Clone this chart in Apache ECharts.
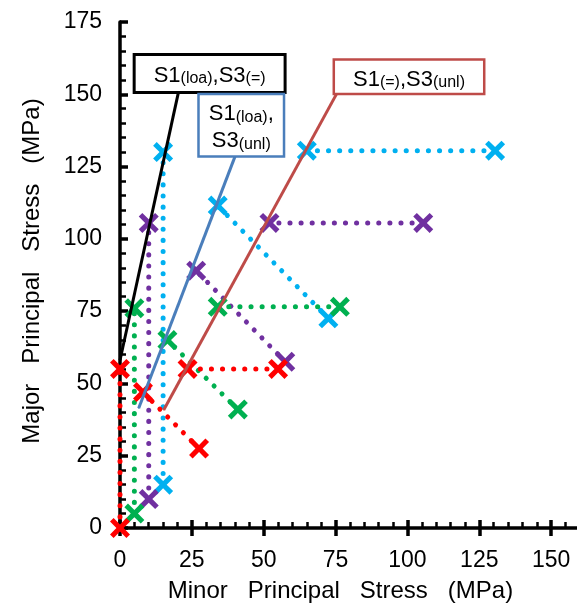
<!DOCTYPE html>
<html>
<head>
<meta charset="utf-8">
<script src="https://cdn.jsdelivr.net/npm/echarts@6/dist/echarts.min.js"></script>
<style>
  html, body { margin: 0; padding: 0; background: #fff; }
  #chart { width: 577px; height: 607px; }
</style>
</head>
<body>
<div id="chart"></div>
<script>
// Stress paths in principal stress space, points are [sigma3, sigma1] in MPa.
// Every colour has three paths leaving a hydrostatic start point:
// S1 loading / S3 constant, S1 loading / S3 unloading, S1 constant / S3 unloading.
const redPaths = [
  [[0, 0], [0, 55]],
  [[27.5, 27.5], [8, 47]],
  [[55, 55], [23.5, 55]]
];
const greenPaths = [
  [[5, 5], [5, 76]],
  [[41, 41], [16.5, 65]],
  [[76.5, 76.5], [34, 76.5]]
];
const purplePaths = [
  [[10, 10], [10, 105.5]],
  [[57.5, 57.5], [26.5, 89]],
  [[105.5, 105.5], [52, 105.5]]
];
const cyanPaths = [
  [[15, 15], [15, 130]],
  [[72.5, 72.5], [34, 111.5]],
  [[130.5, 130.5], [65, 130.5]]
];

// Failure envelopes drawn through the path end points
const envLoaEq = [[0, 58], [20.4, 151]];
const envLoaUnl = [[6.5, 41.4], [40.1, 128.7]];
const envEqUnl = [[15.2, 40.8], [75.5, 150.4]];

// Axis ranges and titles
const axisMin = 0;
const axisMax = 175;
const axisStep = 25;
const xLabelMax = 150;
const xTitle = 'Minor   Principal   Stress   (MPa)';
const yTitle = 'Major   Principal   Stress   (MPa)';

const FONT = '"Liberation Sans", Arial, sans-serif';
const GRID = { left: 120, right: -46, top: 22, bottom: 79, containLabel: false, outerBoundsMode: 'none' };
const GRID_W = 577 - GRID.left - GRID.right;
const GRID_H = 607 - GRID.top - GRID.bottom;

// Thick "x" marker
const CROSS = 'path://M3.6,0L10,6.4L16.4,0L20,3.6L13.6,10L20,16.4L16.4,20L10,13.6L3.6,20L0,16.4L6.4,10L0,3.6Z';

function pathSeries(name, color, paths) {
  return paths.map(p => ({
    type: 'line',
    name: name,
    data: p,
    symbol: CROSS,
    symbolSize: 20,
    showSymbol: true,
    itemStyle: { color: color },
    lineStyle: { color: color, width: 5, type: [0.1, 11], cap: 'round' },
    emphasis: { disabled: true },
    z: 2
  }));
}

function envelopeSeries(points, color, borderWidth, offset, padding, formatter) {
  return {
    type: 'line',
    data: [
      points[0],
      {
        value: points[1],
        label: {
          show: true,
          position: 'top',
          distance: 0,
          offset: offset,
          formatter: formatter,
          backgroundColor: '#fff',
          borderColor: color,
          borderWidth: borderWidth,
          padding: padding,
          lineHeight: 27,
          rich: {
            a: { fontSize: 22, fontFamily: FONT, color: '#000', verticalAlign: 'bottom', lineHeight: 27 },
            b: { fontSize: 16, fontFamily: FONT, color: '#000', verticalAlign: 'bottom', lineHeight: 27 }
          }
        }
      }
    ],
    symbol: 'circle',
    symbolSize: 1,
    showSymbol: true,
    itemStyle: { color: color },
    lineStyle: { color: color, width: 3 },
    emphasis: { disabled: true },
    z: 4
  };
}

const axisText = { fontSize: 23, color: '#000', fontFamily: FONT };

const option = {
  animation: false,
  backgroundColor: '#fff',
  grid: GRID,
  xAxis: [
    {
      type: 'value', min: axisMin, max: axisMax, interval: axisStep,
      position: 'bottom',
      axisLine: { show: true, onZero: false, lineStyle: { color: '#000', width: 3.5 } },
      axisTick: { show: true, inside: true, length: 8, lineStyle: { color: '#000', width: 3.5 } },
      minorTick: { show: true, splitNumber: 5, length: 6, lineStyle: { color: '#000', width: 2.5 } },
      splitLine: { show: false },
      axisLabel: Object.assign({
        margin: 21,
        formatter: v => (v > xLabelMax ? '' : String(v))
      }, axisText),
      name: xTitle,
      nameLocation: 'middle',
      nameGap: 51,
      nameTextStyle: { fontSize: 24, color: '#000', fontFamily: FONT, padding: [0, 62, 0, 0] }
    },
    {
      // outward half of the major ticks on the bottom edge
      type: 'value', min: axisMin, max: axisMax, interval: axisStep,
      position: 'top', offset: -GRID_H,
      axisLine: { show: false },
      axisTick: { show: true, inside: true, length: 8, lineStyle: { color: '#000', width: 3.5 } },
      axisLabel: { show: false },
      splitLine: { show: false }
    }
  ],
  yAxis: [
    {
      type: 'value', min: axisMin, max: axisMax, interval: axisStep,
      position: 'left',
      axisLine: { show: true, onZero: false, lineStyle: { color: '#000', width: 3.5 } },
      axisTick: { show: true, inside: true, length: 8, lineStyle: { color: '#000', width: 3.5 } },
      minorTick: { show: true, splitNumber: 5, length: 6, lineStyle: { color: '#000', width: 2.5 } },
      splitLine: { show: false },
      axisLabel: Object.assign({ margin: 18 }, axisText),
      name: yTitle,
      nameLocation: 'middle',
      nameGap: 76,
      nameTextStyle: { fontSize: 24, color: '#000', fontFamily: FONT, padding: [0, 0, 0, 8] }
    },
    {
      // outward half of the major ticks on the left edge
      type: 'value', min: axisMin, max: axisMax, interval: axisStep,
      position: 'right', offset: -GRID_W,
      axisLine: { show: false },
      axisTick: { show: true, inside: true, length: 8, lineStyle: { color: '#000', width: 3.5 } },
      axisLabel: { show: false },
      splitLine: { show: false }
    }
  ],
  series: [].concat(
    pathSeries('cyan', '#00b0f0', cyanPaths),
    pathSeries('purple', '#7030a0', purplePaths),
    pathSeries('green', '#00b050', greenPaths),
    pathSeries('red', '#ff0000', redPaths),
    [
      envelopeSeries(envLoaEq, '#000000', 3, [31, 0], [4, 18, 4, 18],
        '{a|S1}{b|(loa)}{a|,S3}{b|(=)}'),
      envelopeSeries(envLoaUnl, '#4a7ebb', 2.5, [6, 0], [3, 9, 3, 9],
        '{a|S1}{b|(loa)}{a|,}\n{a|S3}{b|(unl)}'),
      envelopeSeries(envEqUnl, '#be4b48', 2.5, [72, 0], [3, 18, 2, 18],
        '{a|S1}{b|(=)}{a|,S3}{b|(unl)}')
    ]
  )
};

const chart = echarts.init(document.getElementById('chart'), null, { renderer: 'canvas' });
chart.setOption(option);
</script>
</body>
</html>
